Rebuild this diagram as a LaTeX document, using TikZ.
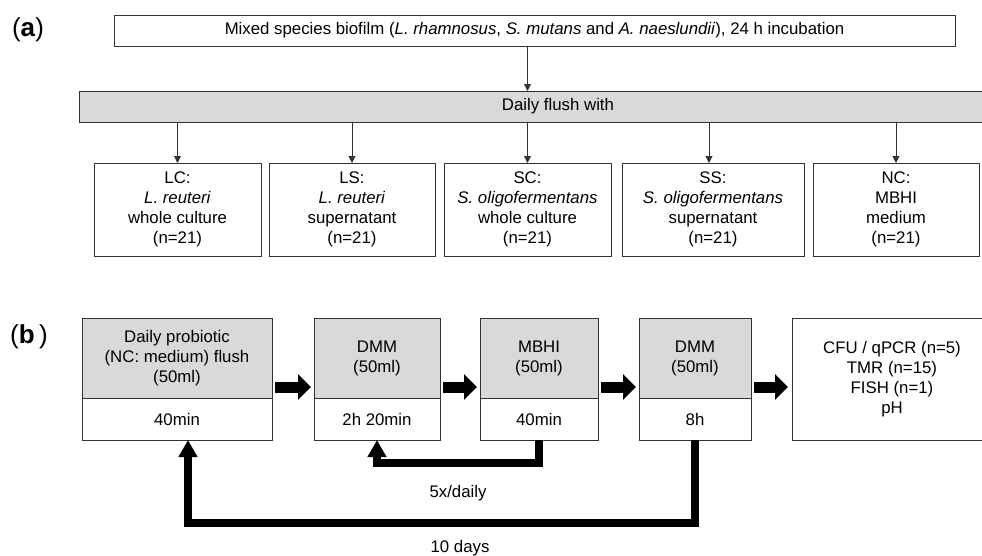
\documentclass[tikz,border=0pt]{standalone}
\usepackage{fontspec}
\setmainfont{Liberation Sans}
\usetikzlibrary{arrows.meta, positioning}
\usepackage{xcolor}
\definecolor{flushgray}{HTML}{D9D9D9}
\definecolor{edgegray}{HTML}{333333}

\begin{document}
\begin{tikzpicture}[x=1pt, y=-1pt,
    every node/.style={font=\fontsize{16.8}{20}\selectfont, inner sep=0pt, outer sep=0pt},
    box/.style={draw=edgegray, line width=0.9pt, align=center, anchor=north west},
    thinarrow/.style={draw=edgegray, line width=0.9pt, -{Triangle[width=7pt,length=7pt]}},
    flowarrow/.style={line width=11pt, -{Triangle[width=25pt,length=13pt]}},
    looparrow/.style={line width=8.5pt, -{Triangle[width=18pt,length=17pt]}}]
    \useasboundingbox (0,0) rectangle (982,555);
    \clip (0,0) rectangle (982,555);

    % (a)
    \node[font=\fontsize{26}{30}\selectfont] (parta) at (28,30) {(\textbf{a})};
    \node[box, minimum width=841, minimum height=31] (mixed) at (114,15) {Mixed species biofilm (\textit{L. rhamnosus}, \textit{S. mutans} and \textit{A. naeslundii}), 24 h incubation};
    \node[box, fill=flushgray, minimum width=958, minimum height=31] (flush) at (79,91) {Daily flush with};

    \node[box, minimum width=167, minimum height=93] (lc) at (94,163) {LC:\\\textit{L. reuteri}\\whole culture\\(n=21)};
    \node[box, minimum width=166, minimum height=93] (ls) at (269,163) {LS:\\\textit{L. reuteri}\\supernatant\\(n=21)};
    \node[box, minimum width=167, minimum height=93] (sc) at (444,163) {SC:\\\textit{S. oligofermentans}\\whole culture\\(n=21)};
    \node[box, minimum width=182, minimum height=93] (ss) at (622,163) {SS:\\\textit{S. oligofermentans}\\supernatant\\(n=21)};
    \node[box, minimum width=166, minimum height=93] (nc) at (813,163) {NC:\\MBHI\\medium\\(n=21)};

    \draw[thinarrow] (mixed.south -| sc.north) -- (flush.north -| sc.north);
    \draw[thinarrow] (flush.south -| lc.north) -- (lc.north);
    \draw[thinarrow] (flush.south -| ls.north) -- (ls.north);
    \draw[thinarrow] (flush.south -| sc.north) -- (sc.north);
    \draw[thinarrow] ([xshift=-4pt]flush.south -| ss.north) -- ([xshift=-4pt]ss.north);
    \draw[thinarrow] (flush.south -| nc.north) -- (nc.north);

    % (b)
    \node[font=\fontsize{26}{30}\selectfont] (partb) at (29,337) {(\textbf{b}\,)};
    \node[box, fill=flushgray, minimum width=190, minimum height=80] (probiotic) at (82,318) {Daily probiotic\\(NC: medium) flush\\(50ml)};
    \node[box, minimum width=190, minimum height=42, below=0pt of probiotic] (probiotictime) {40min};
    \node[box, fill=flushgray, minimum width=126, minimum height=80] (dmmfirst) at (314,318) {DMM\\(50ml)};
    \node[box, minimum width=126, minimum height=42, below=0pt of dmmfirst] (dmmfirsttime) {2h 20min};
    \node[box, fill=flushgray, minimum width=118, minimum height=80] (mbhi) at (480,318) {MBHI\\(50ml)};
    \node[box, minimum width=118, minimum height=42, below=0pt of mbhi] (mbhitime) {40min};
    \node[box, fill=flushgray, minimum width=112, minimum height=80] (dmmnight) at (639,318) {DMM\\(50ml)};
    \node[box, minimum width=112, minimum height=42, below=0pt of dmmnight] (dmmnighttime) {8h};
    \node[box, minimum width=200, minimum height=122] (readout) at (792,318) {CFU / qPCR (n=5)\\TMR (n=15)\\FISH (n=1)\\pH};

    \draw[flowarrow] ([xshift=3pt,yshift=11pt]probiotic.south east) -- ([xshift=-3pt,yshift=11pt]dmmfirst.south west);
    \draw[flowarrow] ([xshift=3pt,yshift=11pt]dmmfirst.south east) -- ([xshift=-3pt,yshift=11pt]mbhi.south west);
    \draw[flowarrow] ([xshift=3pt,yshift=11pt]mbhi.south east) -- ([xshift=-3pt,yshift=11pt]dmmnight.south west);
    \draw[flowarrow] ([xshift=3pt,yshift=11pt]dmmnight.south east) -- ([xshift=-4pt,yshift=-8pt]readout.west);

    \draw[looparrow] (mbhitime.south) -- ++(0,23) -| (dmmfirsttime.south);
    \draw[looparrow] (dmmnighttime.south) -- ++(0,83) -| ([xshift=11pt]probiotictime.south);
    \node (daily) at (458,493) {5x/daily};
    \node (days) at (460,548) {10 days};
\end{tikzpicture}
\end{document}
